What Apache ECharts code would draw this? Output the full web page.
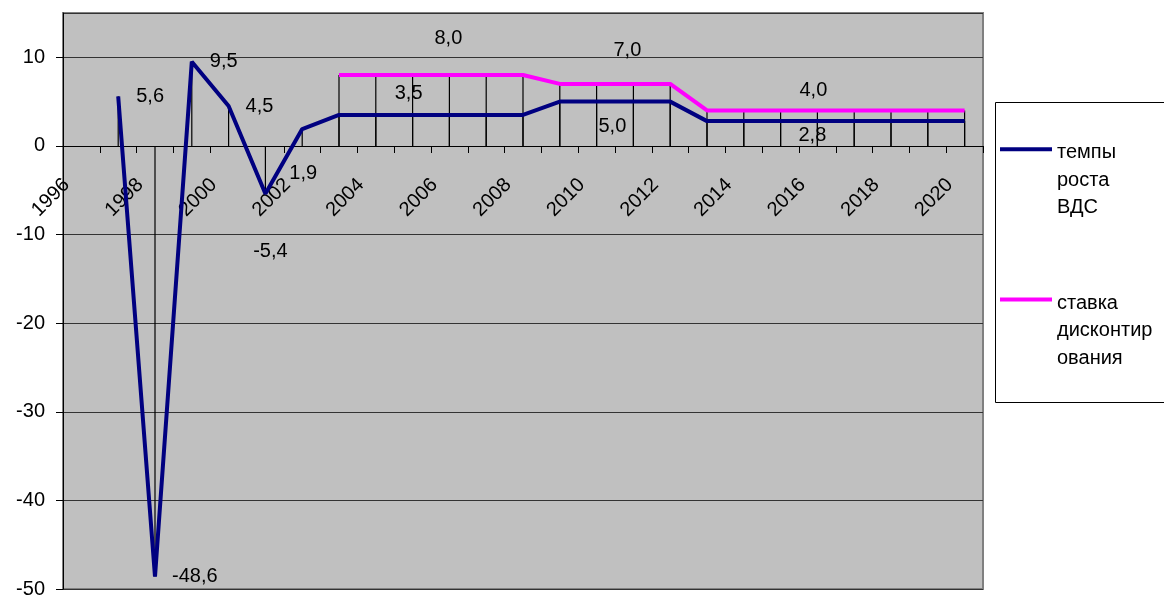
<!DOCTYPE html>
<html>
<head>
<meta charset="utf-8">
<script src="https://cdn.jsdelivr.net/npm/echarts@6/dist/echarts.min.js"></script>
<style>
    html, body { margin: 0; padding: 0; background: #ffffff; }
    #chart { width: 1164px; height: 596px; }
</style>
</head>
<body>
<div id="chart"></div>
<script>
// годы
var years = ['1996', '1997', '1998', '1999', '2000', '2001', '2002', '2003', '2004', '2005',
    '2006', '2007', '2008', '2009', '2010', '2011', '2012', '2013', '2014', '2015',
    '2016', '2017', '2018', '2019', '2020'];
// темпы роста ВДС
var growth = [null, 5.6, -48.6, 9.5, 4.5, -5.4, 1.9, 3.5, 3.5, 3.5,
    3.5, 3.5, 3.5, 5.0, 5.0, 5.0, 5.0, 2.8, 2.8, 2.8,
    2.8, 2.8, 2.8, 2.8, 2.8];
// ставка дисконтирования
var discount = [null, null, null, null, null, null, null, 8.0, 8.0, 8.0,
    8.0, 8.0, 8.0, 7.0, 7.0, 7.0, 7.0, 4.0, 4.0, 4.0,
    4.0, 4.0, 4.0, 4.0, 4.0];
var seriesNames = ['темпы роста ВДС', 'ставка дисконтирования'];
var legendLines = {
    'темпы роста ВДС': ['темпы', 'роста', 'ВДС'],
    'ставка дисконтирования': ['ставка', 'дисконтир', 'ования']
};

// where the data labels sit (index -> label options)
var growthLabels = {
    1: { position: 'right', distance: 18 },
    2: { position: 'right', distance: 17 },
    3: { position: 'right', distance: 18 },
    4: { position: 'right', distance: 17 },
    5: { position: 'bottom', distance: 48, offset: [5, 0] },
    6: { position: 'bottom', distance: 34, offset: [1, 0] },
    9: { position: 'top', distance: 11, offset: [-4, 0] },
    15: { position: 'bottom', distance: 15, offset: [-21, 0] },
    20: { position: 'bottom', distance: 4, offset: [-5, 0] }
};
var discountLabels = {
    10: { position: 'top', distance: 27, offset: [-1, 0] },
    15: { position: 'top', distance: 23, offset: [-6, 0] },
    20: { position: 'top', distance: 10, offset: [-4, 0] }
};

var font = 'Liberation Sans, Arial, sans-serif';

function fmt(v) {
    return v.toFixed(1).replace('.', ',');
}

function withLabels(values, labels) {
    return values.map(function (v, i) {
        if (v === null || !labels[i]) {
            return v;
        }
        var l = labels[i];
        return {
            value: v,
            label: {
                show: true,
                position: l.position,
                distance: l.distance,
                offset: l.offset || [0, 0],
                formatter: fmt(v),
                color: '#000',
                fontSize: 20,
                fontFamily: font
            }
        };
    });
}

var chart = echarts.init(document.getElementById('chart'));
chart.setOption({
    animation: false,
    backgroundColor: '#ffffff',
    textStyle: { fontFamily: font },
    grid: {
        left: 63,
        top: 13,
        right: 181,
        bottom: 7,
        outerBoundsMode: 'none',
        containLabel: false,
        show: true,
        backgroundColor: '#c0c0c0',
        borderColor: '#808080',
        borderWidth: 2
    },
    graphic: [{
        type: 'rect',
        z: 1,
        shape: { x: 995.5, y: 102.5, width: 220, height: 300 },
        style: { fill: '#ffffff', stroke: '#000', lineWidth: 1 }
    }],
    legend: {
        data: seriesNames,
        orient: 'vertical',
        left: 995,
        top: 93,
        z: 10,
        icon: 'rect',
        itemWidth: 52,
        itemHeight: 4,
        itemGap: 30.5,
        formatter: function (name) {
            var l = legendLines[name];
            // empty first row keeps the icon level with the first text row
            return '{s| }\n{b|' + l[0] + '}\n{b|' + l[1] + '}\n{b|' + l[2] + '}';
        },
        textStyle: {
            color: '#000',
            fontSize: 20,
            fontFamily: font,
            rich: {
                s: { fontSize: 20, lineHeight: 62 },
                b: { fontSize: 20, lineHeight: 27.5 }
            }
        }
    },
    xAxis: {
        type: 'category',
        data: years,
        boundaryGap: true,
        position: 'bottom',
        offset: -443,
        axisLine: { onZero: false, lineStyle: { color: '#000', width: 1 } },
        axisTick: { show: true, interval: 0, length: 7, lineStyle: { color: '#000' } },
        axisLabel: {
            interval: 1,
            rotate: 45,
            margin: 21,
            color: '#000',
            fontSize: 20,
            fontFamily: font,
            padding: [0, 21, 4, 0]
        },
        splitLine: { show: false }
    },
    yAxis: {
        type: 'value',
        min: -50,
        max: 15,
        interval: 10,
        axisLine: { show: true, lineStyle: { color: '#000', width: 1 } },
        axisTick: { show: true, length: 7, lineStyle: { color: '#000' } },
        axisLabel: {
            showMaxLabel: false,
            margin: 18,
            color: '#000',
            fontSize: 20,
            fontFamily: font
        },
        splitLine: { show: true, lineStyle: { color: '#333', width: 1 } }
    },
    series: [{
        name: seriesNames[0],
        type: 'line',
        data: withLabels(growth, growthLabels),
        symbol: 'circle',
        symbolSize: 0,
        showSymbol: true,
        z: 4,
        lineStyle: { color: '#000080', width: 4 },
        itemStyle: { color: '#000080' }
    }, {
        name: seriesNames[1],
        type: 'line',
        data: withLabels(discount, discountLabels),
        symbol: 'circle',
        symbolSize: 0,
        showSymbol: true,
        z: 4,
        lineStyle: { color: '#ff00ff', width: 4 },
        itemStyle: { color: '#ff00ff' }
    }, {
        // drop lines
        type: 'bar',
        data: growth,
        barWidth: 1.2,
        barGap: '-100%',
        silent: true,
        z: 3,
        itemStyle: { color: '#000' }
    }, {
        type: 'bar',
        data: discount,
        barWidth: 1.2,
        barGap: '-100%',
        silent: true,
        z: 3,
        itemStyle: { color: '#000' }
    }]
});
</script>
</body>
</html>
